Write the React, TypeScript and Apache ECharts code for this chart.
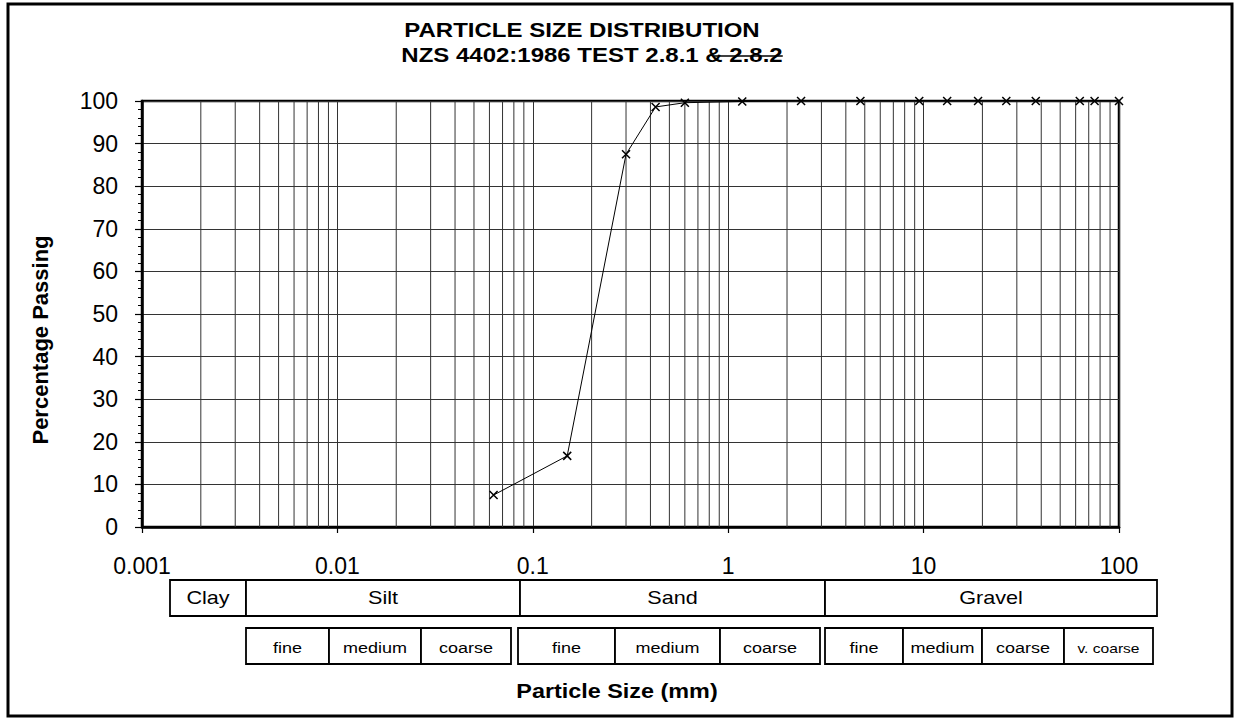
import React, { useEffect, useRef } from "react";
import * as echarts from "echarts";

// ---------- data ----------
const TITLE_LINE_1 = "PARTICLE SIZE DISTRIBUTION";
const TITLE_LINE_2_KEPT = "NZS 4402:1986 TEST 2.8.1 ";
const TITLE_LINE_2_STRUCK = "& 2.8.2";
const Y_AXIS_NAME = "Percentage Passing";
const X_AXIS_NAME = "Particle Size (mm)";

const particleSizes = [0.063, 0.15, 0.3, 0.425, 0.6, 1.18, 2.36, 4.75, 9.5, 13.2, 19, 26.5, 37.5, 63, 75, 100];
const percentPassing = [7.5, 16.7, 87.5, 98.6, 99.6, 99.9, 100, 100, 100, 100, 100, 100, 100, 100, 100, 100];

const xDecades = [0.001, 0.01, 0.1, 1, 10];
const minorMultipliers = [2, 3, 4, 5, 6, 7, 8, 9];

const mainClasses = ["Clay", "Silt", "Sand", "Gravel"];
const subClasses = [
  ["fine", "medium", "coarse"],
  ["fine", "medium", "coarse"],
  ["fine", "medium", "coarse", "v. coarse"],
];

// ---------- layout (pixels) ----------
const FONT = '"Liberation Sans", Arial, Helvetica, sans-serif';
const MAIN_EDGES = [170, 246, 520, 825, 1157];
const MAIN_ROW = [580, 616];
const SUB_EDGES = [
  [246, 329, 421, 511],
  [518, 615, 720, 820],
  [825, 903, 982, 1064, 1153],
];
const SUB_ROW = [628, 664];

function measure(text: string, font: string): number {
  const c = document.createElement("canvas").getContext("2d");
  if (!c) return text.length * 10;
  c.font = font;
  return c.measureText(text).width;
}

export default function App() {
  const ref = useRef<HTMLDivElement>(null);

  useEffect(() => {
    if (!ref.current) return;
    const chart = echarts.init(ref.current, null, { renderer: "svg" });

    const minorValues: number[] = [];
    xDecades.forEach((d) => minorMultipliers.forEach((m) => minorValues.push(parseFloat((d * m).toPrecision(3)))));

    const g: any[] = [];
    const txt = (text: string, x: number, y: number, font: string, scaleX = 1, rotation = 0) => ({
      type: "text",
      x,
      y,
      scaleX,
      rotation,
      silent: true,
      style: {
        text,
        font,
        fill: "#000",
        align: "center",
        verticalAlign: "middle",
        textAlign: "center",
        textVerticalAlign: "middle",
      },
    });

    // outer frame
    g.push({
      type: "rect",
      silent: true,
      shape: { x: 8, y: 4, width: 1224, height: 712 },
      style: { fill: "none", stroke: "#000", lineWidth: 3 },
    });

    // title
    const titleFont = `bold 20px ${FONT}`;
    const sx = 1.2;
    g.push(txt(TITLE_LINE_1, 582, 30, titleFont, sx));
    const full = TITLE_LINE_2_KEPT + TITLE_LINE_2_STRUCK;
    g.push(txt(full, 592, 55, titleFont, sx));
    const wFull = measure(full, titleFont) * sx;
    const wKept = measure(TITLE_LINE_2_KEPT, titleFont) * sx;
    const wAmp = measure("&", titleFont) * sx;
    const left2 = 592 - wFull / 2;
    g.push({
      type: "line",
      silent: true,
      shape: { x1: left2 + wKept + wAmp * 0.45, y1: 56, x2: left2 + wFull, y2: 56 },
      style: { stroke: "#000", lineWidth: 1.6 },
    });

    // axis names
    g.push(txt(Y_AXIS_NAME, 40, 340, `bold 22px ${FONT}`, 1, Math.PI / 2));
    g.push(txt(X_AXIS_NAME, 617, 692, `bold 19.5px ${FONT}`, sx));

    // classification boxes
    const boxStyle = { fill: "#fff", stroke: "#000", lineWidth: 1.8 };
    for (let i = 0; i < mainClasses.length; i++) {
      const x0 = MAIN_EDGES[i];
      const x1 = MAIN_EDGES[i + 1];
      g.push({
        type: "rect",
        silent: true,
        shape: { x: x0, y: MAIN_ROW[0], width: x1 - x0, height: MAIN_ROW[1] - MAIN_ROW[0] },
        style: boxStyle,
      });
      g.push(txt(mainClasses[i], (x0 + x1) / 2, (MAIN_ROW[0] + MAIN_ROW[1]) / 2, `18px ${FONT}`, sx));
    }
    subClasses.forEach((group, gi) => {
      const edges = SUB_EDGES[gi];
      group.forEach((label, i) => {
        const x0 = edges[i];
        const x1 = edges[i + 1];
        g.push({
          type: "rect",
          silent: true,
          shape: { x: x0, y: SUB_ROW[0], width: x1 - x0, height: SUB_ROW[1] - SUB_ROW[0] },
          style: boxStyle,
        });
        const small = label === "v. coarse";
        g.push(
          txt(label, (x0 + x1) / 2, (SUB_ROW[0] + SUB_ROW[1]) / 2 + 2, `${small ? 13 : 15}px ${FONT}`, sx)
        );
      });
    });

    const option: any = {
      animation: false,
      backgroundColor: "#fff",
      grid: {
        left: 142,
        top: 101,
        width: 977,
        height: 426,
        show: true,
        borderColor: "#000",
        borderWidth: 2.5,
        backgroundColor: "transparent",
      },
      xAxis: {
        type: "log",
        logBase: 10,
        min: 0.001,
        max: 100,
        axisLine: { show: true, onZero: false, lineStyle: { color: "#000", width: 2.5 } },
        axisTick: { show: true, length: 6, lineStyle: { color: "#000", width: 1.2 } },
        axisLabel: {
          color: "#000",
          fontSize: 23,
          fontFamily: FONT,
          margin: 27,
          formatter: (v: number) => String(parseFloat(Number(v).toPrecision(4))),
        },
        splitLine: { show: true, lineStyle: { color: "#333", width: 1 } },
      },
      yAxis: {
        type: "value",
        min: 0,
        max: 100,
        interval: 10,
        axisLine: { show: true, lineStyle: { color: "#000", width: 2.5 } },
        axisTick: { show: true, length: 7, lineStyle: { color: "#000", width: 1.2 } },
        minorTick: { show: true, splitNumber: 5, length: 4, lineStyle: { color: "#000", width: 1 } },
        axisLabel: { color: "#000", fontSize: 23, fontFamily: FONT, margin: 24 },
        splitLine: { show: true, lineStyle: { color: "#333", width: 1 } },
      },
      series: [
        {
          type: "custom",
          silent: true,
          clip: false,
          z: 1,
          data: minorValues.map((v) => [v, 0]),
          encode: { x: 0, y: 1 },
          renderItem: (_params: any, api: any) => {
            const v = api.value(0);
            const p0 = api.coord([v, 0]);
            const p1 = api.coord([v, 100]);
            return {
              type: "line",
              shape: { x1: p0[0], y1: p0[1], x2: p1[0], y2: p1[1] },
              style: { stroke: "#333", lineWidth: 1 },
            };
          },
        },
        {
          type: "line",
          data: particleSizes.map((x, i) => [x, percentPassing[i]]),
          symbol: "path://M0,0L10,10M10,0L0,10",
          symbolSize: 8,
          showSymbol: true,
          lineStyle: { color: "#000", width: 1 },
          itemStyle: { color: "#000", borderColor: "#000", borderWidth: 1.5 },
          emphasis: { disabled: true },
          z: 5,
        },
      ],
      graphic: g,
    };

    chart.setOption(option);
    return () => chart.dispose();
  }, []);

  return (
    <div
      ref={ref}
      style={{ position: "absolute", left: 0, top: 0, width: 1240, height: 724, background: "#fff" }}
    />
  );
}
